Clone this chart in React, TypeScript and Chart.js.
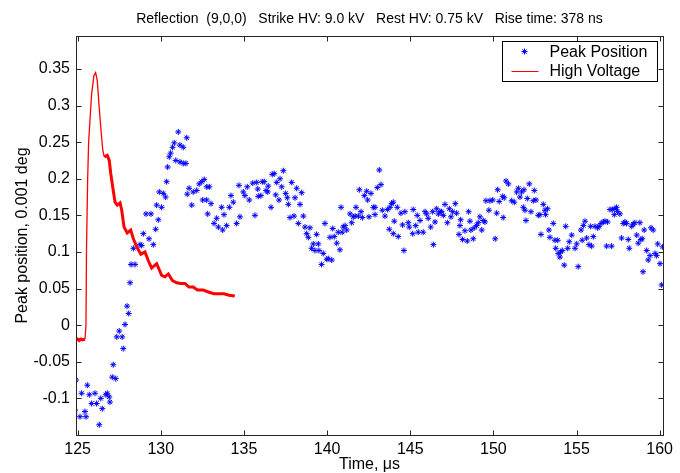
import React, { useEffect, useRef } from "react";
import { Chart, registerables } from "chart.js";

Chart.register(...registerables);

// ---- Data ----
const TITLE = "Reflection  (9,0,0)   Strike HV: 9.0 kV   Rest HV: 0.75 kV   Rise time: 378 ns";
const X_LABEL = "Time, \u03bcs";
const Y_LABEL = "Peak position, 0.001 deg";
const SERIES_NAMES = ["Peak Position", "High Voltage"];

const X_TICKS = [125, 130, 135, 140, 145, 150, 155, 160];
const Y_TICKS = [-0.1, -0.05, 0, 0.05, 0.1, 0.15, 0.2, 0.25, 0.3, 0.35];
const Y_TICK_LABELS = ["-0.1", "-0.05", "0", "0.05", "0.1", "0.15", "0.2", "0.25", "0.3", "0.35"];

const PEAK_T = [
  124.84, 124.9, 125.14, 125.24, 125.44, 125.5, 125.58, 125.7, 125.84, 126.04,
  126.14, 126.3, 126.39, 126.48, 126.69, 126.78, 126.9, 126.94, 127.08, 127.29,
  127.14, 127.35, 127.5, 127.68, 127.74, 127.85, 127.97, 128.07, 128.15, 128.21,
  128.45, 128.35, 128.75, 128.85, 128.95, 129.29, 129.55, 129.11, 129.41, 129.69,
  129.85, 129.75, 130.05, 129.91, 130.15, 130.29, 130.35, 130.41, 130.51, 130.59,
  130.71, 130.81, 130.9, 131.05, 131.15, 131.35, 131.15, 131.35, 131.51, 131.56,
  131.7, 131.59, 131.86, 131.95, 132.16, 132.31, 132.46, 132.61, 132.76, 132.92,
  132.52, 132.76, 133.02, 132.82, 133.2, 133.36, 133.46, 133.66, 133.72, 133.8,
  133.96, 134.12, 134.22, 134.36, 134.56, 134.76, 134.7, 134.96, 135.06, 135.2,
  135.32, 135.53, 135.66,
  135.77, 135.83, 135.86, 136.02, 136.1, 136.22, 136.33, 136.43, 136.46, 136.63,
  136.7, 136.82, 136.97, 137.17, 137.37, 137.27, 136.91, 137.11, 137.51, 137.61,
  137.67, 137.87, 138.17, 138.07, 138.47, 138.37, 137.77, 138.01, 138.57, 138.27,
  138.67, 138.97, 138.77, 138.87, 139.37, 139.17, 139.07, 139.47, 139.27, 139.51,
  139.77, 139.67, 139.98, 140.07, 140.28, 139.87, 140.34, 140.17, 140.43, 140.58,
  140.77, 140.67, 140.91, 140.97, 141.08, 141.18, 140.84, 141.38, 141.48, 141.57,
  141.68, 141.74, 141.88, 142.04, 142.12, 141.94, 142.24, 142.38, 142.44, 142.64,
  142.52, 142.78, 142.88, 142.88, 143.02, 143.14, 143.24, 143.32, 143.48, 143.64,
  143.78, 143.88, 143.98, 143.74, 143.98, 144.04,
  144.22, 144.28, 144.62, 144.44, 144.68, 144.54, 144.88, 144.94, 145.18, 145.33,
  145.42, 145.59, 145.15, 145.48, 145.78, 145.89, 145.99, 146.08, 146.23, 146.35,
  146.39, 146.49, 146.59, 146.69, 146.79, 146.89, 146.99, 147.09, 147.23, 147.35,
  147.45, 147.55, 147.71, 147.79, 147.93, 148.03, 148.15, 147.99, 148.29, 148.43,
  148.51, 148.59, 148.65, 148.79, 148.85, 148.99, 149.09, 149.19, 149.3, 149.39,
  149.49, 149.55, 149.73, 149.79, 149.96, 150.11, 150.2, 150.35, 150.26, 150.56,
  150.65, 150.59, 150.76, 150.9, 151.1, 151.26, 151.4, 151.5, 151.6, 151.7,
  151.84, 151.8, 151.96, 152.04, 152.16,
  152.46, 152.4, 152.56, 151.9, 152.26, 152.7, 152.8, 153.0, 153.1, 153.26,
  153.14, 152.86, 153.34, 153.6, 153.4, 153.7, 153.87, 153.75, 153.9, 154.05,
  154.0, 154.14, 154.26, 154.35, 154.47, 154.56, 154.71, 154.91, 155.01, 155.1,
  155.27, 155.41, 155.51, 155.34, 155.61, 155.75, 155.91, 155.85, 156.01, 156.11,
  156.27, 156.35, 156.47, 156.61, 156.71, 156.87, 156.81, 157.11, 157.01, 157.15,
  157.31, 157.41, 157.47, 157.61, 157.27, 157.71, 157.81, 157.91, 158.01, 158.11,
  158.17, 158.32, 158.41, 158.51, 158.62, 158.71, 158.81, 158.87, 158.95, 159.07,
  159.22, 159.31, 159.42, 159.48, 159.61, 159.72, 159.82, 159.0, 159.88, 160.02,
  160.18, 160.12,
];

const PEAK_V = [
  -0.116, -0.075, -0.125, -0.093, -0.118, -0.125, -0.082, -0.095, -0.107, -0.093,
  -0.107, -0.136, -0.1, -0.114, -0.095, -0.093, -0.098, -0.105, -0.071, -0.073,
  -0.054, -0.016, -0.008, -0.016, -0.032, 0.001, 0.026, 0.016, 0.058, 0.083,
  0.083, 0.105, 0.11, 0.109, 0.125, 0.118, 0.11, 0.152, 0.152, 0.131,
  0.144, 0.164, 0.161, 0.182, 0.18, 0.175, 0.196, 0.216, 0.23, 0.235,
  0.243, 0.249, 0.225, 0.264, 0.246, 0.243, 0.223, 0.221, 0.221, 0.256,
  0.187, 0.179, 0.164, 0.182, 0.184, 0.193, 0.196, 0.199, 0.189, 0.189,
  0.171, 0.171, 0.166, 0.152, 0.139, 0.146, 0.134, 0.161, 0.13, 0.151,
  0.136, 0.161, 0.177, 0.168, 0.139, 0.148, 0.191, 0.182, 0.177, 0.189,
  0.171, 0.194, 0.15,
  0.195, 0.186, 0.176, 0.177, 0.196, 0.196, 0.184, 0.182, 0.19, 0.161,
  0.206, 0.207, 0.195, 0.2, 0.211, 0.189, 0.178, 0.171, 0.18, 0.174,
  0.165, 0.195, 0.187, 0.174, 0.181, 0.165, 0.147, 0.149, 0.149, 0.139,
  0.134, 0.133, 0.125, 0.12, 0.124, 0.111, 0.105, 0.111, 0.102, 0.102,
  0.098, 0.083, 0.09, 0.091, 0.089, 0.139, 0.132, 0.12, 0.121, 0.112,
  0.103, 0.127, 0.127, 0.134, 0.136, 0.13, 0.161, 0.152, 0.14, 0.148,
  0.149, 0.161, 0.149, 0.155, 0.147, 0.185, 0.177, 0.183, 0.171, 0.18,
  0.148, 0.161, 0.161, 0.151, 0.188, 0.212, 0.192, 0.157, 0.149, 0.158,
  0.161, 0.166, 0.168, 0.131, 0.125, 0.142,
  0.161, 0.121, 0.102, 0.153, 0.155, 0.137, 0.14, 0.134, 0.158, 0.136,
  0.15, 0.143, 0.125, 0.127, 0.127, 0.155, 0.152, 0.146, 0.134, 0.155,
  0.11, 0.141, 0.159, 0.152, 0.155, 0.155, 0.15, 0.165, 0.14, 0.159,
  0.148, 0.155, 0.166, 0.153, 0.124, 0.144, 0.117, 0.136, 0.129, 0.115,
  0.155, 0.142, 0.13, 0.118, 0.133, 0.136, 0.14, 0.148, 0.13, 0.143,
  0.141, 0.17, 0.157, 0.17, 0.171, 0.118, 0.153, 0.169, 0.185, 0.176,
  0.174, 0.147, 0.197, 0.193, 0.17, 0.168, 0.182, 0.187, 0.175, 0.182,
  0.185, 0.161, 0.143, 0.173, 0.193,
  0.184, 0.17, 0.171, 0.157, 0.155, 0.15, 0.151, 0.165, 0.157, 0.159,
  0.151, 0.124, 0.13, 0.139, 0.12, 0.116, 0.116, 0.105, 0.098, 0.1,
  0.093, 0.102, 0.082, 0.135, 0.105, 0.114, 0.123, 0.105, 0.111, 0.08,
  0.13, 0.136, 0.142, 0.116, 0.119, 0.11, 0.108, 0.135, 0.121, 0.135,
  0.133, 0.135, 0.139, 0.141, 0.142, 0.141, 0.108, 0.108, 0.158, 0.158,
  0.159, 0.161, 0.155, 0.152, 0.151, 0.119, 0.139, 0.141, 0.139, 0.117,
  0.105, 0.135, 0.138, 0.14, 0.123, 0.112, 0.14, 0.117, 0.118, 0.13,
  0.102, 0.089, 0.095, 0.133, 0.13, 0.098, 0.095, 0.073, 0.111, 0.084,
  0.107, 0.055,
];

const HV_T = [
  124.9, 125.0, 125.1, 125.2, 125.3, 125.44, 125.5, 125.53, 125.6, 125.66,
  125.74, 125.84, 125.98, 126.08, 126.18, 126.28, 126.39, 126.51, 126.6, 126.78,
  126.9, 126.99, 127.14, 127.25, 127.38, 127.55, 127.65, 127.79, 127.98, 128.19,
  128.35, 128.55, 128.8, 129.05, 129.25, 129.45, 129.75, 130.05, 130.25, 130.45,
  130.7, 130.96, 131.2, 131.45, 131.7, 131.95, 132.2, 132.55, 132.9, 133.2,
  133.5, 133.8, 134.1, 134.45,
];

const HV_V = [
  -0.02, -0.019, -0.021, -0.019, -0.02, -0.019, 0.0, 0.1, 0.2, 0.25,
  0.28, 0.316, 0.341, 0.345, 0.334, 0.302, 0.27, 0.239, 0.23, 0.232,
  0.225, 0.207, 0.184, 0.168, 0.164, 0.167, 0.157, 0.134, 0.126, 0.13,
  0.118, 0.107, 0.097, 0.1, 0.088, 0.078, 0.084, 0.068, 0.066, 0.07,
  0.061, 0.058, 0.057, 0.057, 0.052, 0.052, 0.048, 0.048, 0.045, 0.043,
  0.043, 0.043, 0.041, 0.04,
];

const X_MIN = 124.9;
const X_MAX = 160.2;
const Y_MIN = -0.15;
const Y_MAX = 0.395;

// ---- Styles ----
const FONT = '"Liberation Sans", Arial, Helvetica, sans-serif';
const BLUE = "#0000ff";
const RED = "#ff0000";
const AXIS = "#262626";
const TICK_LEN = 5;

function drawStar(ctx: CanvasRenderingContext2D, x: number, y: number, r: number) {
  const d = r * Math.SQRT1_2;
  ctx.beginPath();
  ctx.moveTo(x - r, y);
  ctx.lineTo(x + r, y);
  ctx.moveTo(x, y - r);
  ctx.lineTo(x, y + r);
  ctx.moveTo(x - d, y - d);
  ctx.lineTo(x + d, y + d);
  ctx.moveTo(x - d, y + d);
  ctx.lineTo(x + d, y - d);
  ctx.stroke();
}

const framePlugin = {
  id: "matlabFrame",
  afterDraw(chart: any) {
    const { ctx, chartArea } = chart;
    const { left, right, top, bottom } = chartArea;
    const xs = chart.scales.x;
    const ys = chart.scales.y;
    ctx.save();
    ctx.strokeStyle = AXIS;
    ctx.lineWidth = 1;
    const L = Math.round(left) + 0.5;
    const R = Math.round(right) + 0.5;
    const T = Math.round(top) + 0.5;
    const B = Math.round(bottom) + 0.5;
    ctx.strokeRect(L, T, R - L, B - T);
    ctx.beginPath();
    X_TICKS.forEach((v) => {
      const px = Math.round(xs.getPixelForValue(v)) + 0.5;
      ctx.moveTo(px, B);
      ctx.lineTo(px, B - TICK_LEN);
      ctx.moveTo(px, T);
      ctx.lineTo(px, T + TICK_LEN);
    });
    Y_TICKS.forEach((v) => {
      const py = Math.round(ys.getPixelForValue(v)) + 0.5;
      ctx.moveTo(L, py);
      ctx.lineTo(L + TICK_LEN, py);
      ctx.moveTo(R, py);
      ctx.lineTo(R - TICK_LEN, py);
    });
    ctx.stroke();

    // Title
    ctx.fillStyle = "#000";
    ctx.font = `14px ${FONT}`;
    ctx.textAlign = "center";
    ctx.textBaseline = "middle";
    ctx.fillText(TITLE, (left + right) / 2, top - 17);

    // Legend
    const boxW = 155;
    const boxH = 40;
    const bx = Math.round(right - 6 - boxW) + 0.5;
    const by = Math.round(top + 5) + 0.5;
    ctx.fillStyle = "#fff";
    ctx.fillRect(bx, by, boxW, boxH);
    ctx.strokeStyle = "#000";
    ctx.strokeRect(bx, by, boxW, boxH);
    const row1 = by + 10;
    const row2 = by + 29;
    ctx.strokeStyle = BLUE;
    ctx.lineWidth = 1;
    drawStar(ctx, bx + 22, row1, 3);
    ctx.strokeStyle = RED;
    ctx.lineWidth = 1;
    ctx.beginPath();
    ctx.moveTo(bx + 9, Math.round(row2) + 0.5);
    ctx.lineTo(bx + 36, Math.round(row2) + 0.5);
    ctx.stroke();
    ctx.fillStyle = "#000";
    ctx.font = `16px ${FONT}`;
    ctx.textAlign = "left";
    ctx.textBaseline = "middle";
    ctx.fillText(SERIES_NAMES[0], bx + 47, row1 + 1);
    ctx.fillText(SERIES_NAMES[1], bx + 47, row2 + 1);
    ctx.restore();
  },
};

export default function App() {
  const canvasRef = useRef<HTMLCanvasElement | null>(null);

  useEffect(() => {
    if (!canvasRef.current) return;
    Chart.defaults.font.family = FONT;
    Chart.defaults.color = "#000";

    const peakData = PEAK_T.map((t, i) => ({ x: t, y: PEAK_V[i] }));
    const hvData = HV_T.map((t, i) => ({ x: t, y: HV_V[i] }));

    const chart = new Chart(canvasRef.current, {
      type: "scatter",
      data: {
        datasets: [
          {
            label: SERIES_NAMES[0],
            data: peakData,
            showLine: false,
            pointStyle: "star",
            pointRadius: 3,
            pointBorderWidth: 1,
            borderColor: BLUE,
            backgroundColor: BLUE,
            order: 1,
          },
          {
            label: SERIES_NAMES[1],
            data: hvData,
            showLine: true,
            pointRadius: 0,
            borderColor: RED,
            backgroundColor: RED,
            borderWidth: 3,
            order: 0,
            segment: {
              borderWidth: (c: any) => {
                const x0 = c.p0.parsed.x;
                return x0 >= 125.44 && x0 < 126.6 ? 1.3 : 3;
              },
            },
          } as any,
        ],
      },
      options: {
        animation: false,
        responsive: false,
        devicePixelRatio: 1,
        layout: { padding: { top: 36, right: 17, left: 0, bottom: 0 } },
        plugins: {
          legend: { display: false },
          title: { display: false },
          tooltip: { enabled: false },
        },
        scales: {
          x: {
            type: "linear",
            position: "bottom",
            min: X_MIN,
            max: X_MAX,
            grid: { display: false, drawTicks: false },
            border: { display: false },
            afterBuildTicks: (scale: any) => {
              scale.ticks = X_TICKS.map((v) => ({ value: v }));
            },
            afterFit: (scale: any) => {
              scale.height = 38;
            },
            ticks: {
              font: { size: 16 },
              color: "#000",
              padding: 5,
              maxRotation: 0,
              autoSkip: false,
              callback: (v: any) => String(v),
            },
            title: {
              display: true,
              text: X_LABEL,
              font: { size: 16 },
              color: "#000",
              padding: { top: 0, bottom: -1 },
            },
          },
          y: {
            type: "linear",
            position: "left",
            min: Y_MIN,
            max: Y_MAX,
            grid: { display: false, drawTicks: false },
            border: { display: false },
            afterBuildTicks: (scale: any) => {
              scale.ticks = Y_TICKS.map((v) => ({ value: v }));
            },
            afterFit: (scale: any) => {
              scale.width = 76;
            },
            ticks: {
              font: { size: 16 },
              color: "#000",
              padding: 6,
              autoSkip: false,
              callback: (_v: any, i: number) => Y_TICK_LABELS[i],
            },
            title: {
              display: true,
              text: Y_LABEL,
              font: { size: 16 },
              color: "#000",
              padding: { top: 13, bottom: 0 },
            },
          },
        },
      },
      plugins: [framePlugin],
    } as any);

    return () => chart.destroy();
  }, []);

  return (
    <div style={{ position: "absolute", left: 0, top: 0, width: 680, height: 473, background: "#fff" }}>
      <canvas ref={canvasRef} width={680} height={473} style={{ width: 680, height: 473, display: "block" }} />
    </div>
  );
}
